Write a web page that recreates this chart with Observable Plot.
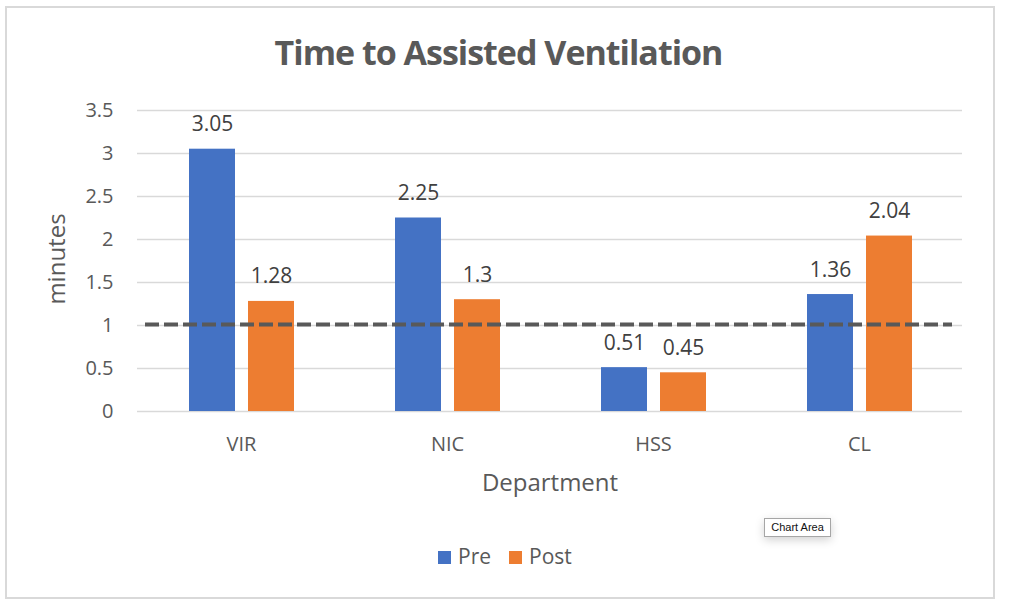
<!DOCTYPE html>
<html>
<head>
<meta charset="utf-8">
<script src="https://cdn.jsdelivr.net/npm/d3@7"></script>
<script src="https://cdn.jsdelivr.net/npm/@observablehq/plot@0.6"></script>
<style>
  html, body { margin: 0; padding: 0; background: #fff; }
  body { position: relative; width: 1013px; height: 613px; overflow: hidden; font-family: "Open Sans", sans-serif; }
  #frame { position: absolute; left: 5px; top: 6px; width: 990px; height: 593px; box-sizing: border-box; border: 2px solid #d9d9d9; }
  #title { position: absolute; left: 0; width: 997px; top: 35px; text-align: center; font-size: 34px; line-height: 1; font-weight: 700; color: #595959; letter-spacing: -1px; white-space: nowrap; }
  #chart { position: absolute; left: 0; top: 0; }
  #legend { position: absolute; left: 438px; top: 543px; display: flex; align-items: center; font-size: 21px; line-height: 1; color: #595959; height: 26px; }
  .sw { width: 13px; height: 13px; display: inline-block; margin-right: 7px; margin-top: 3px; }
  .item { display: flex; align-items: center; margin-right: 18px; }
  #tip { position: absolute; left: 764px; top: 518px; width: 67px; height: 19px; box-sizing: border-box; border: 1px solid #a6a6a6; background: #fff; font-family: "Liberation Sans", Arial, sans-serif; font-size: 11px; line-height: 17px; text-align: center; color: #111; box-shadow: 0 3px 10px rgba(0,0,0,0.18); }
</style>
</head>
<body>
<div id="frame"></div>
<div id="title">Time to Assisted Ventilation</div>
<div id="chart"></div>
<div id="legend"></div>
<div id="tip">Chart Area</div>
<script>
// ---- data ----
const departments = ["VIR", "NIC", "HSS", "CL"];
const preValues = [3.05, 2.25, 0.51, 1.36];
const postValues = [1.28, 1.3, 0.45, 2.04];
const seriesNames = ["Pre", "Post"];
const seriesColors = ["#4472C4", "#ED7D31"];
const yTicks = [0, 0.5, 1, 1.5, 2, 2.5, 3, 3.5];
const referenceValue = 1.013;

const pre = departments.map((d, i) => ({department: d, value: preValues[i]}));
const post = departments.map((d, i) => ({department: d, value: postValues[i]}));

const W = 1013, H = 520;
const ml = 137, mr = 51, mt = 110, mb = 109;

const chart = Plot.plot({
  width: W,
  height: H,
  marginLeft: ml,
  marginRight: mr,
  marginTop: mt,
  marginBottom: mb,
  style: {fontFamily: "Open Sans, sans-serif", fontSize: "20px", color: "#595959", background: "transparent", overflow: "visible"},
  x: {domain: departments, padding: 0, label: null},
  y: {domain: [0, 3.5], label: null},
  marks: [
    Plot.ruleY(yTicks, {stroke: "#d9d9d9", strokeWidth: 1.4}),
    Plot.barY(pre, {x: "department", y: "value", fill: seriesColors[0], insetLeft: 51, insetRight: 109}),
    Plot.barY(post, {x: "department", y: "value", fill: seriesColors[1], insetLeft: 110, insetRight: 50}),
    Plot.ruleY([referenceValue], {stroke: "#595959", strokeWidth: 4, strokeDasharray: "14,5", insetLeft: 8, insetRight: 10}),
    Plot.text(pre, {x: "department", y: "value", text: d => String(d.value), lineAnchor: "bottom", dy: -18, dx: -29, fontSize: 21, fill: "#404040"}),
    Plot.text(post, {x: "department", y: "value", text: d => String(d.value), lineAnchor: "bottom", dy: -18, dx: 30, fontSize: 21, fill: "#404040"}),
    Plot.axisY({ticks: yTicks, tickSize: 0, tickPadding: 24, tickFormat: d => String(d), fontSize: 20, label: null}),
    Plot.axisX({tickSize: 0, tickPadding: 25, fontSize: 20, label: null}),
    Plot.text(["minutes"], {frameAnchor: "left", textAnchor: "middle", rotate: -90, dx: -80, dy: -2, fontSize: 24, fill: "#595959"}),
    Plot.text(["Department"], {frameAnchor: "bottom", textAnchor: "middle", lineAnchor: "top", dy: 62, fontSize: 24, fill: "#595959"})
  ]
});
document.getElementById("chart").appendChild(chart);

// legend
const legend = document.getElementById("legend");
seriesNames.forEach((name, i) => {
  const item = document.createElement("div");
  item.className = "item";
  const sw = document.createElement("span");
  sw.className = "sw";
  sw.style.background = seriesColors[i];
  const t = document.createElement("span");
  t.textContent = name;
  item.appendChild(sw);
  item.appendChild(t);
  legend.appendChild(item);
});
</script>
</body>
</html>
